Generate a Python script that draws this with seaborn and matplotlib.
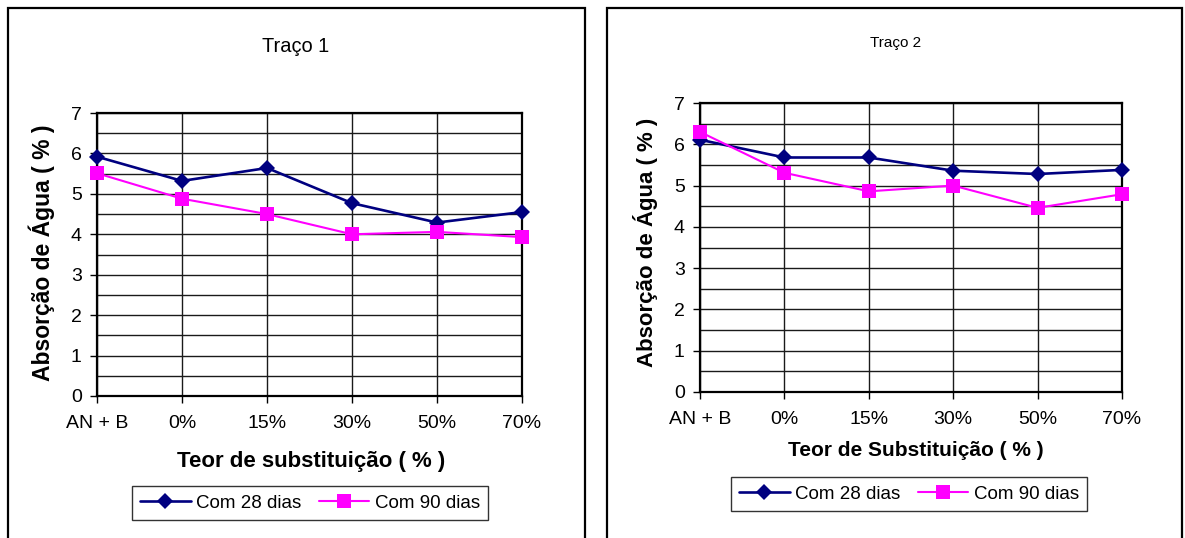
import matplotlib
matplotlib.use("Agg")
import matplotlib.pyplot as plt
from matplotlib.patches import Rectangle
from matplotlib.ticker import MultipleLocator
import numpy as np
import pandas as pd
import seaborn as sns

# --- data -------------------------------------------------------------
teores = ["AN + B", "0%", "15%", "30%", "50%", "70%"]
series = ["Com 28 dias", "Com 90 dias"]

traco1_28 = [5.92, 5.32, 5.64, 4.77, 4.29, 4.55]
traco1_90 = [5.51, 4.88, 4.50, 4.00, 4.06, 3.93]

traco2_28 = [6.11, 5.68, 5.68, 5.36, 5.28, 5.38]
traco2_90 = [6.30, 5.31, 4.86, 5.00, 4.46, 4.79]

y_ticks = [0, 1, 2, 3, 4, 5, 6, 7]

# --- style ------------------------------------------------------------
sns.set_style("white")
plt.rcParams["font.family"] = ["Liberation Sans", "DejaVu Sans"]
plt.rcParams["text.color"] = "black"
plt.rcParams["axes.labelcolor"] = "black"
plt.rcParams["xtick.color"] = "black"
plt.rcParams["ytick.color"] = "black"

W, H = 1185, 538
fig = plt.figure(figsize=(W / 100, H / 100), dpi=100)
fig.patch.set_facecolor("white")

palette = {"Com 28 dias": "#000080", "Com 90 dias": "#FF00FF"}
markers = {"Com 28 dias": "D", "Com 90 dias": "s"}
line_w = {"Com 28 dias": 1.9, "Com 90 dias": 1.5}
mark_sz = {"Com 28 dias": 7.8, "Com 90 dias": 10.5}


def px_rect(x0, y0, x1, y1):
    """Axes rectangle from pixel box (top-left origin) to figure fractions."""
    return [x0 / W, 1 - y1 / H, (x1 - x0) / W, (y1 - y0) / H]


def long_frame(v28, v90):
    return pd.DataFrame({
        "teor": teores * 2,
        "absorcao": list(v28) + list(v90),
        "serie": [series[0]] * len(teores) + [series[1]] * len(teores),
    })


def draw_panel(ax, df, xlabel, ylabel_pos, xlabel_pos, ylabel_size, xlabel_size,
               legend_center):
    sns.lineplot(data=df, x="teor", y="absorcao", hue="serie", style="serie",
                 markers=markers, dashes=False, palette=palette, sort=False,
                 ax=ax, legend=False, markeredgewidth=0, zorder=3)
    for line, s in zip(ax.get_lines(), series):
        line.set_linewidth(line_w[s])
        line.set_markersize(mark_sz[s])
        line.set_markerfacecolor(palette[s])
        line.set_markeredgecolor(palette[s])
        line.set_clip_on(False)

    ax.set_xlim(0, len(teores) - 1)
    ax.set_ylim(0, 7)
    ax.set_yticks(y_ticks)
    ax.yaxis.set_minor_locator(MultipleLocator(0.5))
    ax.set_xticks(range(len(teores)))
    ax.set_xticklabels(teores)

    ax.grid(True, which="major", axis="both", color="#1a1a1a", linewidth=1.0)
    ax.grid(True, which="minor", axis="y", color="#1a1a1a", linewidth=1.0)
    ax.set_axisbelow(True)

    for sp in ax.spines.values():
        sp.set_visible(True)
        sp.set_color("black")
        sp.set_linewidth(1.6)

    ax.tick_params(axis="y", which="major", direction="out", length=5, width=1,
                   color="black", left=True, labelsize=14, pad=6)
    ax.tick_params(axis="y", which="minor", length=0)
    ax.tick_params(axis="x", which="major", direction="out", length=5, width=1,
                   color="black", bottom=True, labelsize=14, pad=8.5)

    # axis titles, placed in pixel terms relative to the axes box
    bbox = ax.get_position()
    ax_x0, ax_x1 = bbox.x0 * W, bbox.x1 * W
    ax_top, ax_bot = (1 - bbox.y1) * H, (1 - bbox.y0) * H

    ax.set_ylabel("Absorção de Água ( % )", fontsize=ylabel_size,
                  fontweight="bold")
    ax.yaxis.label.set_verticalalignment("center")
    ax.yaxis.set_label_coords((ylabel_pos[0] - ax_x0) / (ax_x1 - ax_x0),
                              (ax_bot - ylabel_pos[1]) / (ax_bot - ax_top))

    ax.set_xlabel(xlabel, fontsize=xlabel_size, fontweight="bold")
    ax.xaxis.label.set_verticalalignment("center")
    ax.xaxis.set_label_coords((xlabel_pos[0] - ax_x0) / (ax_x1 - ax_x0),
                              (ax_bot - xlabel_pos[1]) / (ax_bot - ax_top))

    handles = [
        plt.Line2D([], [], color=palette[s], marker=markers[s],
                   linewidth=line_w[s], markersize=mark_sz[s],
                   markeredgewidth=0)
        for s in series
    ]
    leg = fig.legend(handles, series, loc="center",
                     bbox_to_anchor=(legend_center[0] / W,
                                     1 - legend_center[1] / H),
                     ncol=2, frameon=True, fancybox=False, shadow=False,
                     edgecolor="#333333", facecolor="white", framealpha=1,
                     fontsize=13.5, handlelength=2.7, handletextpad=0.3,
                     columnspacing=0.9, borderpad=0.45)
    leg.get_frame().set_linewidth(1.0)


# --- outer frames ------------------------------------------------------
for x0, x1 in [(8, 585), (606.5, 1182)]:
    fig.add_artist(Rectangle((x0 / W, -0.1), (x1 - x0) / W, 1.1 - 8 / H,
                             transform=fig.transFigure, fill=False,
                             edgecolor="black", linewidth=1.6, clip_on=False))

# --- panel 1 -----------------------------------------------------------
ax1 = fig.add_axes(px_rect(97, 113, 522, 396))
draw_panel(ax1, long_frame(traco1_28, traco1_90),
           "Teor de substituição ( % )",
           ylabel_pos=(42, 253), xlabel_pos=(311, 462),
           ylabel_size=16.5, xlabel_size=16, legend_center=(310, 503))
fig.text(296 / W, 1 - 46.7 / H, "Traço 1", ha="center", va="center",
         fontsize=14.4)

# --- panel 2 -----------------------------------------------------------
ax2 = fig.add_axes(px_rect(700, 103, 1122, 392))
draw_panel(ax2, long_frame(traco2_28, traco2_90),
           "Teor de Substituição ( % )",
           ylabel_pos=(645, 242), xlabel_pos=(916, 450),
           ylabel_size=16, xlabel_size=15, legend_center=(909, 494))
fig.text(896 / W, 1 - 42.7 / H, "Traço 2", ha="center", va="center",
         fontsize=11)

fig.savefig("out.png", dpi=100, facecolor="white")
